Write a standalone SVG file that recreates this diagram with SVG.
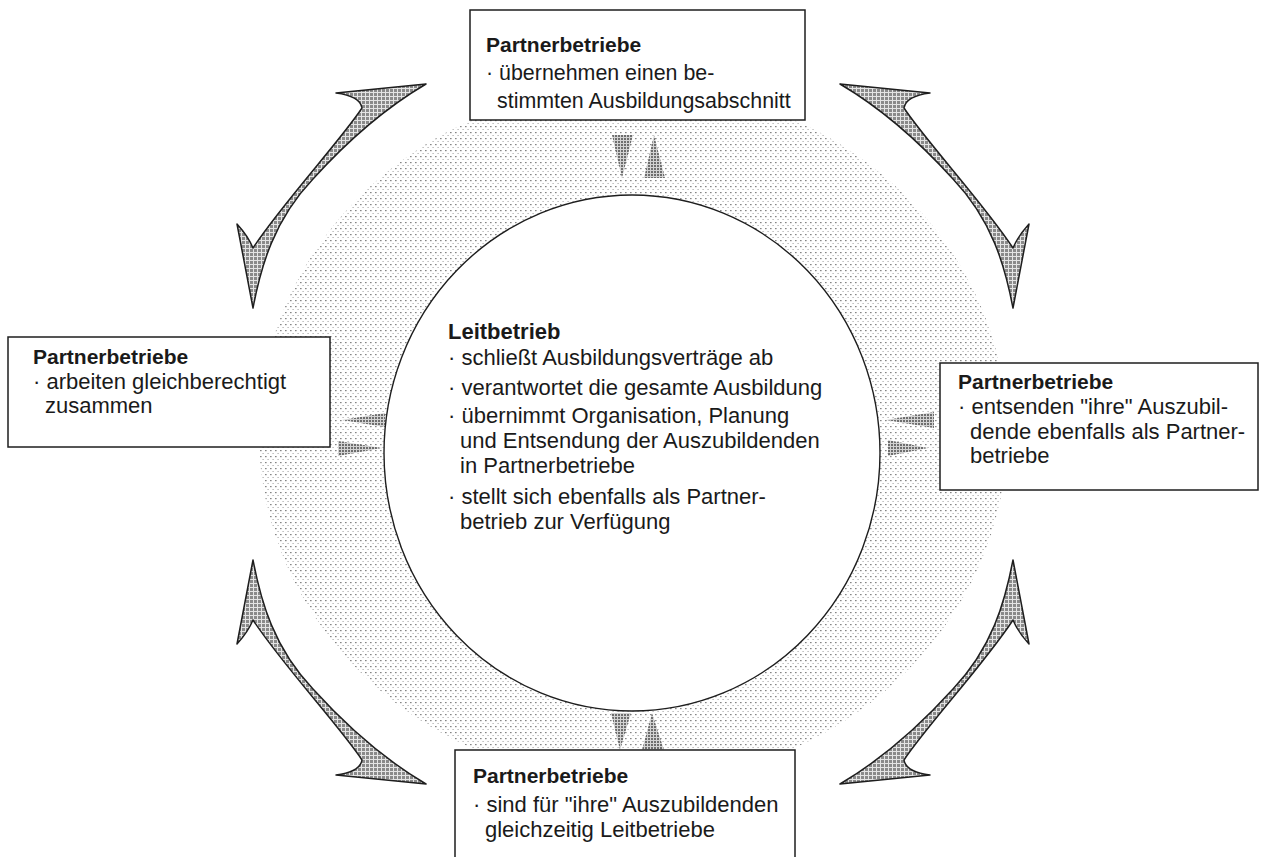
<svg xmlns="http://www.w3.org/2000/svg" xmlns:xlink="http://www.w3.org/1999/xlink" width="1261" height="857" viewBox="0 0 1261 857">
<style>
.box{fill:#fff;stroke:#1e1e1e;stroke-width:1.5}
.t{font-family:"Liberation Sans",Arial,Helvetica,sans-serif;font-size:22px;fill:#1a1a1a}
.s{font-size:21.4px}
.b{font-weight:bold;font-size:21px}
.lb{font-weight:bold;font-size:22px}
.big{fill:url(#hatch);stroke:#1e1e1e;stroke-width:1.5;stroke-linejoin:round}
.small{fill:url(#dense);stroke:none}
</style>
<defs>
<pattern id="stip" width="5" height="6" patternUnits="userSpaceOnUse"><rect x="0" y="0" width="1.6" height="1.2" fill="#868686"/><rect x="2.5" y="3" width="1.2" height="1" fill="#ababab"/></pattern>
<pattern id="hatch" width="4" height="4" patternUnits="userSpaceOnUse"><rect width="4" height="4" fill="#8a8a8a"/><rect width="4" height="1" fill="#e4e4e4"/><rect width="1" height="4" fill="#e4e4e4"/></pattern>
<pattern id="dense" width="3" height="3" patternUnits="userSpaceOnUse"><rect width="3" height="3" fill="#d2d2d2"/><rect width="2" height="2" fill="#6e6e6e"/></pattern>
<path id="arr" d="M840,84 L930,93 Q906,96 904,108 C925,140 985,205 1013,248 Q1018,236 1029,224 L1013,308 C1005,266 992,220 953,179 C924,147 886,111 840,84 Z"/>
</defs>
<rect width="1261" height="857" fill="#fff"/>
<g id="background">
<ellipse cx="633" cy="434" rx="374" ry="348" fill="url(#stip)"/>
</g>
<g id="connectors">
<use xlink:href="#arr" class="big"/>
<use xlink:href="#arr" class="big" transform="matrix(-1 0 0 1 1266 0)"/>
<use xlink:href="#arr" class="big" transform="matrix(1 0 0 -1 0 868)"/>
<use xlink:href="#arr" class="big" transform="matrix(-1 0 0 -1 1266 868)"/>
<polygon class="small" points="612,135 633,135 622,178"/>
<polygon class="small" points="654,135 644,178 665,178"/>
<polygon class="small" points="611,713 631,713 620,750"/>
<polygon class="small" points="652,713 642,750 664,750"/>
<polygon class="small" points="342,420 385,413 385,427"/>
<polygon class="small" points="338,441 338,456 382,448"/>
<polygon class="small" points="886,420 934,412 934,428"/>
<polygon class="small" points="888,440 888,456 928,448"/>
</g>
<g id="leitbetrieb">
<ellipse cx="632" cy="453" rx="248" ry="258" fill="#fff" stroke="#1e1e1e" stroke-width="1.4"/>
<text class="t lb" x="448" y="339">Leitbetrieb</text>
<text class="t" x="448" y="365">· schließt Ausbildungsverträge ab</text>
<text class="t" x="448" y="395">· verantwortet die gesamte Ausbildung</text>
<text class="t" x="448" y="423">· übernimmt Organisation, Planung</text>
<text class="t" x="460" y="448">und Entsendung der Auszubildenden</text>
<text class="t" x="460" y="473">in Partnerbetriebe</text>
<text class="t" x="448" y="504">· stellt sich ebenfalls als Partner-</text>
<text class="t" x="460" y="529">betrieb zur Verfügung</text>
</g>
<g id="partner-top">
<rect class="box" x="470" y="10" width="335" height="110"/>
<text class="t b" x="486" y="52">Partnerbetriebe</text>
<text class="t s" x="486" y="80">· übernehmen einen be-</text>
<text class="t s" x="497" y="108">stimmten Ausbildungsabschnitt</text>
</g>
<g id="partner-left">
<rect class="box" x="8" y="337" width="322" height="110"/>
<text class="t b" x="33" y="364">Partnerbetriebe</text>
<text class="t" x="33" y="389">· arbeiten gleichberechtigt</text>
<text class="t" x="45" y="413">zusammen</text>
</g>
<g id="partner-right">
<rect class="box" x="940" y="363" width="318" height="127"/>
<text class="t b" x="958" y="389">Partnerbetriebe</text>
<text class="t" x="958" y="414">· entsenden "ihre" Auszubil-</text>
<text class="t" x="970" y="439">dende ebenfalls als Partner-</text>
<text class="t" x="970" y="463">betriebe</text>
</g>
<g id="partner-bottom">
<rect class="box" x="455" y="750" width="340" height="120"/>
<text class="t b" x="473" y="783">Partnerbetriebe</text>
<text class="t" x="473" y="812">· sind für "ihre" Auszubildenden</text>
<text class="t" x="485" y="837">gleichzeitig Leitbetriebe</text>
</g>
</svg>
